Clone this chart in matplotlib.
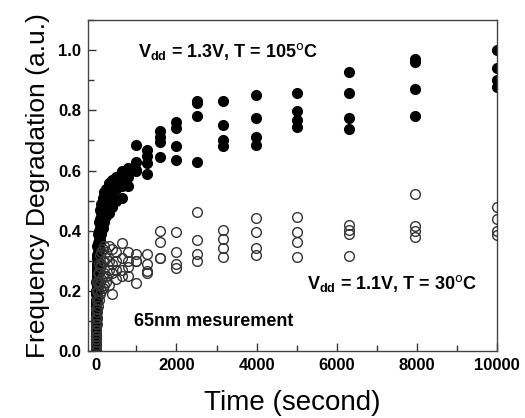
import matplotlib
matplotlib.use("Agg")
import matplotlib.pyplot as plt
from matplotlib.ticker import MultipleLocator

plt.rcParams['font.family'] = ['Liberation Sans', 'DejaVu Sans']
plt.rcParams['mathtext.fontset'] = 'custom'
plt.rcParams['mathtext.rm'] = 'Liberation Sans:bold'
plt.rcParams['mathtext.bf'] = 'Liberation Sans:bold'
plt.rcParams['mathtext.default'] = 'rm'

# stress time (s)
times = [0, 1, 1.6, 2.5, 4, 6.3, 10, 16, 25, 40, 63, 100, 126, 158, 200, 251, 316, 398,
         501, 631, 794, 1000, 1259, 1585, 1995, 2512, 3162, 3981, 5012, 6310,
         7943, 10000]

# Vdd = 1.3V, T = 105C (filled), four devices
hot_1 = [0, 0.08, 0.11, 0.15, 0.19, 0.23, 0.27, 0.31, 0.35, 0.39, 0.43, 0.47, 0.49, 0.51, 0.53,
         0.54, 0.56, 0.57, 0.58, 0.60, 0.61, 0.685, 0.667, 0.73, 0.76, 0.83, 0.832, 0.851, 0.857,
         0.927, 0.97, 1.0]
hot_2 = [0, 0.06, 0.09, 0.12, 0.16, 0.20, 0.24, 0.28, 0.32, 0.36, 0.40, 0.44, 0.46, 0.48, 0.50,
         0.51, 0.53, 0.55, 0.56, 0.58, 0.60, 0.627, 0.648, 0.71, 0.74, 0.825, 0.752, 0.773, 0.797,
         0.857, 0.96, 0.94]
hot_3 = [0, 0.04, 0.07, 0.10, 0.13, 0.17, 0.21, 0.25, 0.29, 0.33, 0.37, 0.41, 0.43, 0.45, 0.47,
         0.49, 0.51, 0.52, 0.54, 0.55, 0.58, 0.603, 0.625, 0.695, 0.68, 0.78, 0.70, 0.71, 0.767,
         0.775, 0.87, 0.90]
hot_4 = [0, 0.02, 0.05, 0.08, 0.11, 0.14, 0.18, 0.22, 0.26, 0.30, 0.34, 0.37, 0.39, 0.41, 0.43,
         0.45, 0.46, 0.48, 0.50, 0.51, 0.55, 0.60, 0.59, 0.645, 0.636, 0.63, 0.68, 0.685, 0.745,
         0.737, 0.78, 0.877]

# Vdd = 1.1V, T = 30C (open), four devices
cold_1 = [0, 0.05, 0.07, 0.09, 0.11, 0.14, 0.17, 0.20, 0.23, 0.26, 0.29, 0.32, 0.33, 0.34, 0.35,
          0.33, 0.35, 0.34, 0.33, 0.36, 0.33, 0.323, 0.323, 0.40, 0.397, 0.463, 0.403, 0.443,
          0.447, 0.42, 0.523, 0.48]
cold_2 = [0, 0.04, 0.05, 0.07, 0.09, 0.11, 0.14, 0.17, 0.20, 0.23, 0.26, 0.28, 0.29, 0.30, 0.30,
          0.31, 0.30, 0.29, 0.30, 0.31, 0.30, 0.30, 0.29, 0.363, 0.33, 0.37, 0.373, 0.397,
          0.397, 0.403, 0.415, 0.44]
cold_3 = [0, 0.03, 0.04, 0.05, 0.07, 0.09, 0.11, 0.14, 0.17, 0.20, 0.22, 0.23, 0.24, 0.25, 0.26,
          0.25, 0.27, 0.26, 0.27, 0.27, 0.28, 0.30, 0.267, 0.31, 0.29, 0.323, 0.343, 0.343,
          0.363, 0.39, 0.40, 0.40]
cold_4 = [0, 0.02, 0.03, 0.04, 0.05, 0.07, 0.09, 0.11, 0.13, 0.15, 0.17, 0.19, 0.20, 0.21, 0.22,
          0.23, 0.22, 0.19, 0.24, 0.25, 0.25, 0.227, 0.26, 0.31, 0.277, 0.30, 0.313, 0.32,
          0.313, 0.317, 0.38, 0.385]

fig = plt.figure(figsize=(5.25, 4.18), dpi=100)
ax = fig.add_axes([0.168, 0.160, 0.779, 0.792])

for ys in [hot_1, hot_2, hot_3, hot_4]:
    ax.plot(times, ys, 'o', color='black', markersize=7, linestyle='none', zorder=2)
for ys in [cold_1, cold_2, cold_3, cold_4]:
    ax.plot(times, ys, 'o', markerfacecolor='none', markeredgecolor='#333333',
            markeredgewidth=1.0, markersize=7, linestyle='none', zorder=3)

ax.set_xlim(-200, 10000)
ax.set_ylim(0, 1.1)
ax.xaxis.set_major_locator(MultipleLocator(2000))
ax.xaxis.set_minor_locator(MultipleLocator(1000))
ax.yaxis.set_minor_locator(MultipleLocator(0.1))
ax.set_yticks([0, 0.2, 0.4, 0.6, 0.8, 1.0])
ax.set_yticklabels(['0.0', '0.2', '0.4', '0.6', '0.8', '1.0'])
ax.tick_params(which='both', direction='in', top=False, right=False, color='#333333')
ax.tick_params(which='major', length=6, width=1, labelsize=12, pad=5)
ax.tick_params(which='minor', length=4, width=1)
for lab in ax.get_xticklabels() + ax.get_yticklabels():
    lab.set_fontweight('bold')
for sp in ax.spines.values():
    sp.set_color('#444444')
    sp.set_linewidth(1.0)

ax.set_xlabel('Time (second)', fontsize=20, labelpad=12)
ax.set_ylabel('Frequency Degradation (a.u.)', fontsize=19, labelpad=6)

ax.text(1050, 0.995, r'V$_{dd}$ = 1.3V, T = 105$^{\mathsf{o}}$C', fontsize=13,
        fontweight='bold', va='center', ha='left')
ax.text(5250, 0.225, r'V$_{dd}$ = 1.1V, T = 30$^{\mathsf{o}}$C', fontsize=13,
        fontweight='bold', va='center', ha='left')
ax.text(950, 0.097, '65nm mesurement', fontsize=13, fontweight='bold',
        va='center', ha='left')

fig.savefig('out.png', dpi=100)
